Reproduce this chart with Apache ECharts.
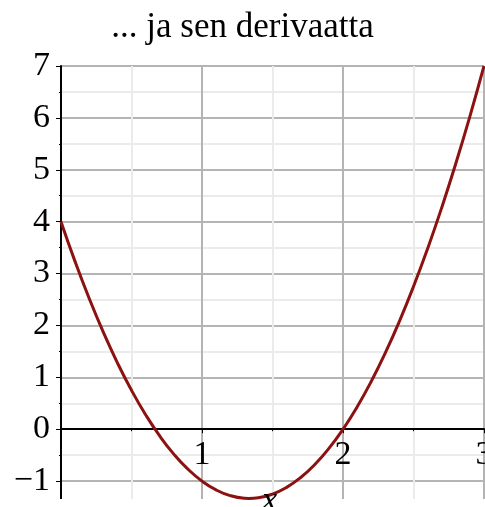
<!DOCTYPE html>
<html>
<head>
<meta charset="utf-8">
<script src="https://cdn.jsdelivr.net/npm/echarts@6/dist/echarts.min.js"></script>
<style>html,body{margin:0;padding:0;background:#fff;}#c{width:485px;height:507px;}</style>
</head>
<body>
<div id="c"></div>
<script>
var titleText = '... ja sen derivaatta';
var xName = 'x';
var xValues = [0,0.1,0.2,0.3,0.4,0.5,0.6,0.7,0.8,0.9,1.0,1.1,1.2,1.3,1.333,1.4,1.5,1.6,1.7,1.8,1.9,2.0,2.1,2.2,2.3,2.4,2.5,2.6,2.7,2.8,2.9,3.0];
var yValues = [4,3.23,2.52,1.87,1.28,0.75,0.28,-0.13,-0.48,-0.77,-1,-1.17,-1.28,-1.33,-1.333,-1.32,-1.25,-1.12,-0.93,-0.68,-0.37,0,0.43,0.92,1.47,2.08,2.75,3.48,4.27,5.12,6.03,7];
var xTickLabels = ['', '1', '2', '3'];

var font = "'Liberation Serif','Times New Roman',serif";
var data = xValues.map(function(x, i){ return [x, yValues[i]]; });

var chart = echarts.init(document.getElementById('c'));
chart.setOption({
  animation: false,
  backgroundColor: '#fff',
  title: {
    text: titleText, left: 'center', top: 5,
    textStyle: {fontFamily: font, fontSize: 35, fontWeight: 'normal', color: '#000'}
  },
  grid: {left: 61, right: 1, top: 66, bottom: -26, outerBoundsMode: 'none', containLabel: false},
  xAxis: {
    type: 'value', min: 0, max: 3, interval: 1, position: 'bottom', offset: -103.8,
    axisLine: {onZero: false, lineStyle: {color: '#000', width: 2}},
    axisTick: {show: true, length: 4, lineStyle: {color: '#000', width: 1}},
    minorTick: {show: true, splitNumber: 2, length: 2, lineStyle: {color: '#000'}},
    axisLabel: {
      fontFamily: font, fontSize: 34, color: '#000', margin: 9,
      showMinLabel: true, showMaxLabel: true, hideOverlap: false,
      formatter: function(v){ return xTickLabels[Math.round(v)] || ''; }
    },
    splitLine: {show: true, lineStyle: {color: '#b4b4b4', width: 2}},
    minorSplitLine: {show: true, lineStyle: {color: '#ebebeb', width: 2}}
  },
  yAxis: {
    type: 'value', min: -2, max: 7, interval: 1,
    axisLine: {onZero: false, lineStyle: {color: '#000', width: 2}},
    axisTick: {show: true, length: 5, lineStyle: {color: '#000', width: 1}},
    minorTick: {show: true, splitNumber: 2, length: 2, lineStyle: {color: '#000'}},
    axisLabel: {
      fontFamily: font, fontSize: 34, color: '#000', margin: 11,
      formatter: function(v){ if (v <= -2) return ''; return v < 0 ? '\u2212' + (-v) : String(v); }
    },
    splitLine: {show: true, lineStyle: {color: '#b4b4b4', width: 2}},
    minorSplitLine: {show: true, lineStyle: {color: '#ebebeb', width: 2}}
  },
  graphic: [
    {type: 'rect', z: 1, silent: true, shape: {x: 0, y: 499, width: 485, height: 8}, style: {fill: '#fff'}},
    {type: 'text', z: 10, silent: true, x: 262, y: 484,
     style: {text: xName, fill: '#000', font: 'italic 34px ' + font}}
  ],
  series: [{
    type: 'line', data: data, smooth: true, showSymbol: false, clip: false,
    lineStyle: {color: '#8c1212', width: 3}
  }]
});
</script>
</body>
</html>
